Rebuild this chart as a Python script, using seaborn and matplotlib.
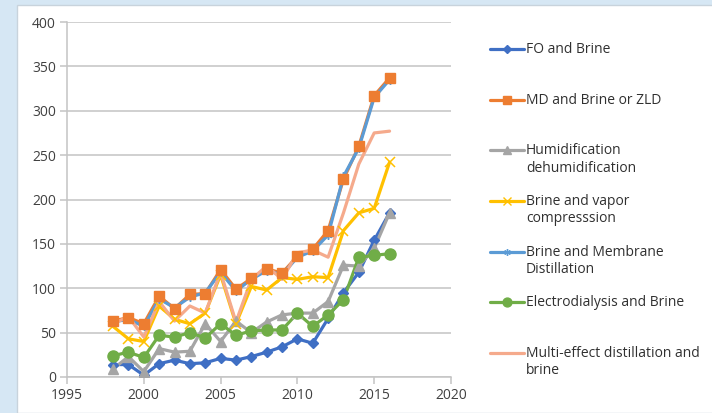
import numpy as np
import pandas as pd
import matplotlib
matplotlib.use("Agg")
import matplotlib.pyplot as plt
import matplotlib.transforms as mtransforms
from matplotlib.lines import Line2D
from matplotlib.patches import Rectangle
import seaborn as sns

years = list(range(1998, 2017))

fo_brine = [14, 14, 2, 15, 19, 15, 16, 21, 19, 23, 28, 34, 43, 38, 66, 95, 118, 154, 185]
md_brine_zld = [63, 67, 60, 91, 77, 93, 94, 121, 99, 111, 122, 117, 136, 144, 165, 223, 260, 317, 337]
humid_dehumid = [9, 23, 6, 32, 28, 29, 60, 40, 63, 50, 62, 70, 72, 72, 85, 126, 125, 145, 185]
brine_vapor = [57, 43, 40, 80, 65, 60, 72, 115, 60, 102, 98, 112, 110, 113, 112, 165, 185, 190, 242]
brine_membrane = [62, 65, 57, 88, 78, 90, 95, 118, 97, 110, 120, 115, 135, 142, 160, 226, 258, 315, 335]
electro_brine = [24, 28, 22, 47, 45, 50, 44, 60, 47, 52, 53, 53, 72, 57, 70, 87, 135, 137, 139]
multi_effect = [60, 68, 45, 85, 63, 80, 72, 118, 62, 110, 125, 110, 140, 143, 135, 185, 240, 275, 277]

labels = ["FO and Brine", "MD and Brine or ZLD", "Humidification\ndehumidification",
          "Brine and vapor\ncompresssion", "Brine and Membrane\nDistillation",
          "Electrodialysis and Brine", "Multi-effect distillation and\nbrine"]
series = [fo_brine, md_brine_zld, humid_dehumid, brine_vapor, brine_membrane,
          electro_brine, multi_effect]
colors = ["#3f6fc4", "#ed7d31", "#a5a5a5", "#ffc000", "#5b9bd5", "#70ad47", "#f5aa8c"]
markers = ["D", "s", "^", "x", (6, 2, 0), "o", None]
msizes = [5, 7, 7, 7, 6, 8, 0]
# marker stacking: squares over the membrane asterisks
marker_z = [3.0, 3.2, 3.02, 3.03, 3.01, 3.05, 3.0]

sns.set_style("white")
plt.rcParams['font.family'] = ['Open Sans', 'DejaVu Sans']

fig = plt.figure(figsize=(7.12, 4.13), dpi=100, facecolor="#d6e7f4")
fig.patches.append(Rectangle((17 / 712, 0), 1, 1 - 5 / 413, transform=fig.transFigure,
                             facecolor="white", edgecolor="#c8d3dc", lw=1, zorder=-1))

ax = fig.add_axes([67 / 712, 36 / 413, 384 / 712, 355 / 413])
ax.set_facecolor("none")

# lines first, markers on top (like Excel)
for i, (vals, c) in enumerate(zip(series, colors)):
    sns.lineplot(x=years, y=vals, ax=ax, color=c, lw=2.3, zorder=2 + i * 0.01)
for i, (vals, c, m, ms) in enumerate(zip(series, colors, markers, msizes)):
    if m is None:
        continue
    filled = m not in ("x", (6, 2, 0))
    sns.lineplot(x=years, y=vals, ax=ax, color=c, linestyle="", marker=m,
                 markersize=ms, markeredgecolor=c,
                 markeredgewidth=1.0 if filled else 1.1, zorder=marker_z[i])

ax.set_xlim(1995, 2020)
ax.set_ylim(0, 400)
ax.set_xticks(range(1995, 2021, 5))
ax.set_yticks(range(0, 401, 50))
ax.yaxis.grid(True, color="#c4c4c4", lw=1.1)
ax.xaxis.grid(False)
for s in ["top", "right"]:
    ax.spines[s].set_visible(False)
for s in ["left", "bottom"]:
    ax.spines[s].set_color("#c4c4c4")
    ax.spines[s].set_linewidth(1.1)
ax.tick_params(axis="both", which="major", length=5, width=1.1, color="#c4c4c4",
               labelsize=10, labelcolor="#404040", pad=3, direction="out",
               bottom=True, left=True)
ax.set_xlabel("")
ax.set_ylabel("")

# legend: every entry two lines tall so first lines are evenly spaced
handles = []
for c, m, ms in zip(colors, markers, msizes):
    if m is None:
        handles.append(Line2D([], [], color=c, lw=2.3))
    else:
        handles.append(Line2D([], [], color=c, lw=2.3, marker=m, markersize=ms * 0.8,
                              markeredgecolor=c))
leg_labels = [lab if "\n" in lab else lab + "\n " for lab in labels]
fs = 10
leg = fig.legend(handles, leg_labels, loc="upper left", bbox_to_anchor=(490 / 712, 1 - 42 / 413),
                 frameon=False, fontsize=fs, numpoints=1, handlelength=2.45,
                 handletextpad=0.15, labelspacing=1.33, borderpad=0, borderaxespad=0)
for t in leg.get_texts():
    t.set_color("#303030")
shift = mtransforms.ScaledTranslation(0, 0.7 * fs / 72, fig.dpi_scale_trans)
for h in leg.legend_handles:
    h.set_transform(h.get_transform() + shift)

fig.savefig("out.png", dpi=100, facecolor=fig.get_facecolor())
